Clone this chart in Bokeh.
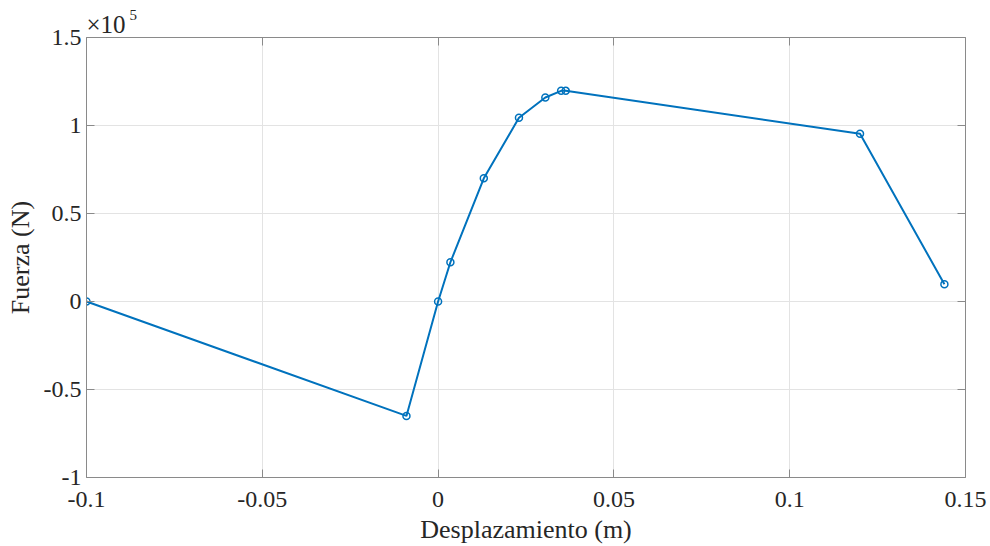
from bokeh.plotting import figure
from bokeh.models import LinearAxis, FixedTicker, CustomJSTickFormatter, Title, Range1d
from bokeh.embed import file_html
from bokeh.resources import INLINE

# Data
desplazamiento = [-0.1, -0.009, 0.0, 0.0035, 0.013, 0.023, 0.0305, 0.035, 0.0363, 0.12, 0.144]
fuerza = [0, -65000, 0, 22300, 70000, 104400, 115900, 119700, 119700, 95300, 9800]
x_ticks = [-0.1, -0.05, 0, 0.05, 0.1, 0.15]
y_ticks = [-100000, -50000, 0, 50000, 100000, 150000]

FONT = "Liberation Serif"
BLUE = "#0072BD"
AXC = "#8a8a8a"
TXT = "#262626"

p = figure(width=990, height=546, output_backend="svg", toolbar_location=None,
           x_range=Range1d(-0.1, 0.15), y_range=Range1d(-100000, 150000),
           min_border_left=86, min_border_right=25, min_border_top=37, min_border_bottom=69)
p.outline_line_color = None

p.line(desplazamiento, fuerza, line_color=BLUE, line_width=2)
p.scatter(desplazamiento, fuerza, size=7, marker="circle", fill_color=None,
          line_color=BLUE, line_width=1.5)

xfmt = CustomJSTickFormatter(code="return (Math.round(tick*1000)/1000).toString();")
yfmt = CustomJSTickFormatter(code="return (tick/1e5).toString();")
blank = CustomJSTickFormatter(code="return '';")

def style(ax, ticks, fmt):
    ax.ticker = FixedTicker(ticks=ticks)
    ax.formatter = fmt
    ax.axis_line_color = AXC
    ax.major_tick_line_color = AXC
    ax.major_tick_in = 8
    ax.major_tick_out = 0
    ax.minor_tick_line_color = None
    ax.major_label_text_font = FONT
    ax.major_label_text_font_size = "24px"
    ax.major_label_text_color = TXT
    ax.axis_label_text_font = FONT
    ax.axis_label_text_font_size = "26px"
    ax.axis_label_text_font_style = "normal"
    ax.axis_label_text_color = TXT

style(p.xaxis[0], x_ticks, xfmt)
style(p.yaxis[0], y_ticks, yfmt)
p.xaxis[0].axis_label = "Desplazamiento (m)"
p.yaxis[0].axis_label = "Fuerza (N)"
p.xaxis[0].major_label_standoff = 14
p.xaxis[0].axis_label_standoff = 5
p.yaxis[0].major_label_standoff = 5
p.yaxis[0].axis_label_standoff = 6

top = LinearAxis()
style(top, x_ticks, blank)
top.major_label_text_font_size = "0px"
top.major_label_standoff = 0
right = LinearAxis()
style(right, y_ticks, blank)
right.major_label_text_font_size = "0px"
right.major_label_standoff = 0
p.add_layout(top, "above")
p.add_layout(right, "right")

p.xgrid.ticker = FixedTicker(ticks=x_ticks)
p.ygrid.ticker = FixedTicker(ticks=y_ticks)
p.xgrid.grid_line_color = "#e3e3e3"
p.ygrid.grid_line_color = "#e3e3e3"

# exponent "×10^5": "×10" row next to the frame, superscript "5" row above it
p.add_layout(Title(text="×10", align="left", offset=0, standoff=0, text_font=FONT,
                   text_font_size="25px", text_font_style="normal", text_color=TXT), "above")
p.title.text = "5"
p.title.align = "left"
p.title.offset = 43
p.title.standoff = -23
p.title.text_font = FONT
p.title.text_font_size = "15px"
p.title.text_font_style = "normal"
p.title.text_color = TXT

open("out.html", "w").write(file_html(p, INLINE))
